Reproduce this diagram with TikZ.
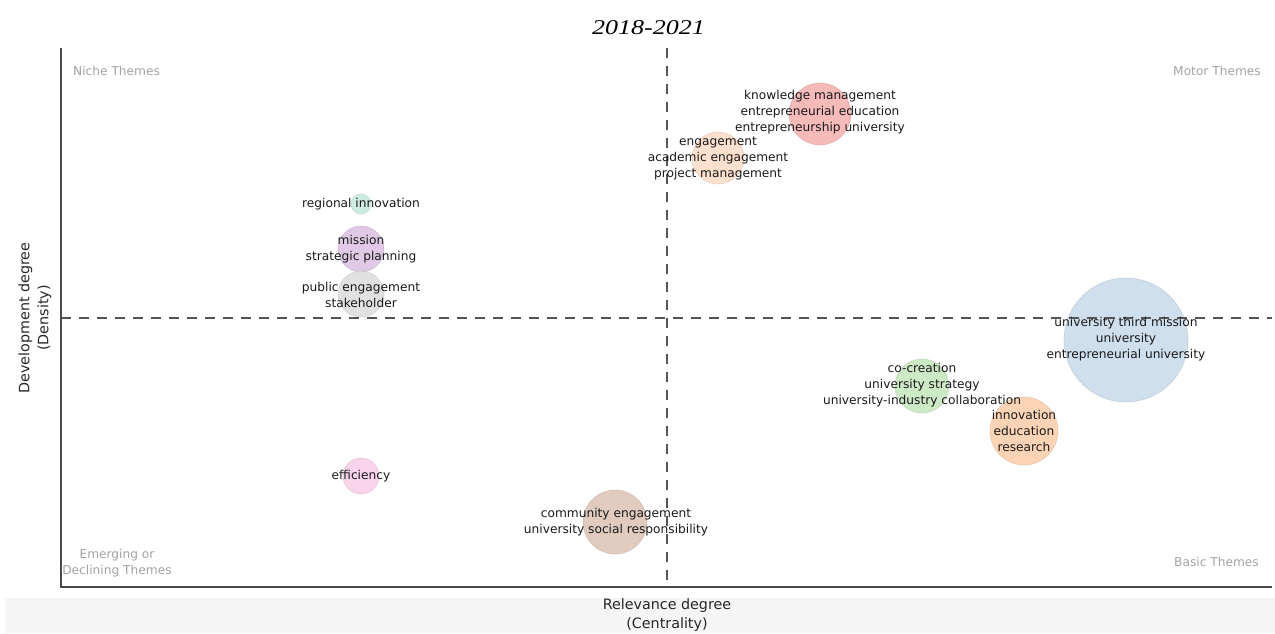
\documentclass[tikz,border=0pt]{standalone}
\usepackage{fontspec}
\setmainfont{DejaVu Sans}
\newfontfamily\titlefont{Liberation Serif}
\usetikzlibrary{shapes.geometric}

\definecolor{axisgray}{HTML}{4A4A4A}
\definecolor{dashgray}{HTML}{555555}
\definecolor{quadgray}{HTML}{A2A2A2}
\definecolor{bandgray}{HTML}{F5F5F5}
\definecolor{cteal}{HTML}{C5E9DA}
\definecolor{cpurple}{HTML}{DBBEE3}
\definecolor{cgray}{HTML}{DCDCDC}
\definecolor{cpink}{HTML}{F9CCE6}
\definecolor{cbrown}{HTML}{DCC2B4}
\definecolor{cpeach}{HTML}{FDDAC6}
\definecolor{cred}{HTML}{F4AEAD}
\definecolor{cgreen}{HTML}{C4E6BD}
\definecolor{corange}{HTML}{FBCCA8}
\definecolor{cblue}{HTML}{C7D9EA}

\tikzset{
  bubble/.style={circle, inner sep=0pt, fill=#1, fill opacity=0.85,
                 draw=#1!80!black, draw opacity=0.35, line width=0.8pt},
  theme/.style={align=center, inner sep=0pt, text=black!90,
                font=\fontsize{12.2}{16}\selectfont},
  quad/.style={inner sep=0pt, text=quadgray, align=center,
               font=\fontsize{12.2}{16}\selectfont},
  axislabel/.style={align=center, inner sep=0pt, text=black!85,
                    font=\fontsize{14.3}{19}\selectfont},
  axisline/.style={draw=axisgray, line width=1.4pt},
  divider/.style={draw=dashgray, line width=1.3pt, dash pattern=on 10pt off 8pt}
}

\begin{document}
\begin{tikzpicture}[x=1pt, y=-1pt]
  \useasboundingbox (0,0) rectangle (1275,633);

  % light band under the plot area
  \fill[bandgray] (5,598) rectangle (1275,633);

  % title
  \node[inner sep=0pt] (title) at (648.5,28)
    {\scalebox{1.24}[1]{\titlefont\itshape\fontsize{21}{24}\selectfont 2018-2021}};

  % bubbles
  \node[bubble=cteal,   minimum size=20pt]  (bRegional)  at (361,204) {};
  \node[bubble=cpurple, minimum size=46pt]  (bMission)   at (361,249) {};
  \node[bubble=cgray,   minimum size=46pt]  (bPublic)    at (361,294) {};
  \node[bubble=cpink,   minimum size=36pt]  (bEff)       at (361,476) {};
  \node[bubble=cbrown,  minimum size=64pt]  (bCommunity) at (615,522) {};
  \node[bubble=cpeach,  minimum size=52pt]  (bEngage)    at (718,158) {};
  \node[bubble=cred,    minimum size=62pt]  (bKnow)      at (820,114) {};
  \node[bubble=cgreen,  minimum size=54pt]  (bCo)        at (922,386) {};
  \node[bubble=corange, minimum size=68pt]  (bInnov)     at (1024,431) {};
  \node[bubble=cblue,   minimum size=124pt] (bThird)     at (1126,340) {};

  % quadrant dividers
  \coordinate (vtop) at (667,48);
  \coordinate (vbot) at (667,587);
  \coordinate (hleft) at (61,318);
  \coordinate (hright) at (1272,318);
  \draw[divider] (vtop) -- (vbot);
  \draw[divider] (hleft) -- (hright);

  % axes
  \coordinate (origin) at (61,587);
  \coordinate (ytop) at (61,48);
  \coordinate (xend) at (1272,587);
  \draw[axisline] (ytop) -- (origin) -- (xend);

  % axis titles
  \node[axislabel] (xlab) at (667,615) {Relevance degree\\(Centrality)};
  \node[axislabel, rotate=90] (ylab) at (35,318) {Development degree\\(Density)};

  % quadrant names
  \node[quad, anchor=west] (niche) at (73,71) {Niche Themes};
  \node[quad, anchor=east] (motor) at (1261,71) {Motor Themes};
  \node[quad] (emerging) at (117,563) {Emerging or\\Declining Themes};
  \node[quad, anchor=east] (basic) at (1259,562) {Basic Themes};

  % theme labels
  \node[theme] (tRegional)  at (361,204) {regional innovation};
  \node[theme] (tMission)   at (361,249) {mission\\strategic planning};
  \node[theme] (tPublic)    at (361,295) {public engagement\\stakeholder};
  \node[theme] (tEff)       at (361,476) {efficiency};
  \node[theme] (tCommunity) at (616,522) {community engagement\\university social responsibility};
  \node[theme] (tEngage)    at (718,158) {engagement\\academic engagement\\project management};
  \node[theme] (tKnow)      at (820,112) {knowledge management\\entrepreneurial education\\entrepreneurship university};
  \node[theme] (tCo)        at (922,385) {co-creation\\university strategy\\university-industry collaboration};
  \node[theme] (tInnov)     at (1024,431) {innovation\\education\\research};
  \node[theme] (tThird)     at (1126,339) {university third mission\\university\\entrepreneurial university};
\end{tikzpicture}
\end{document}
